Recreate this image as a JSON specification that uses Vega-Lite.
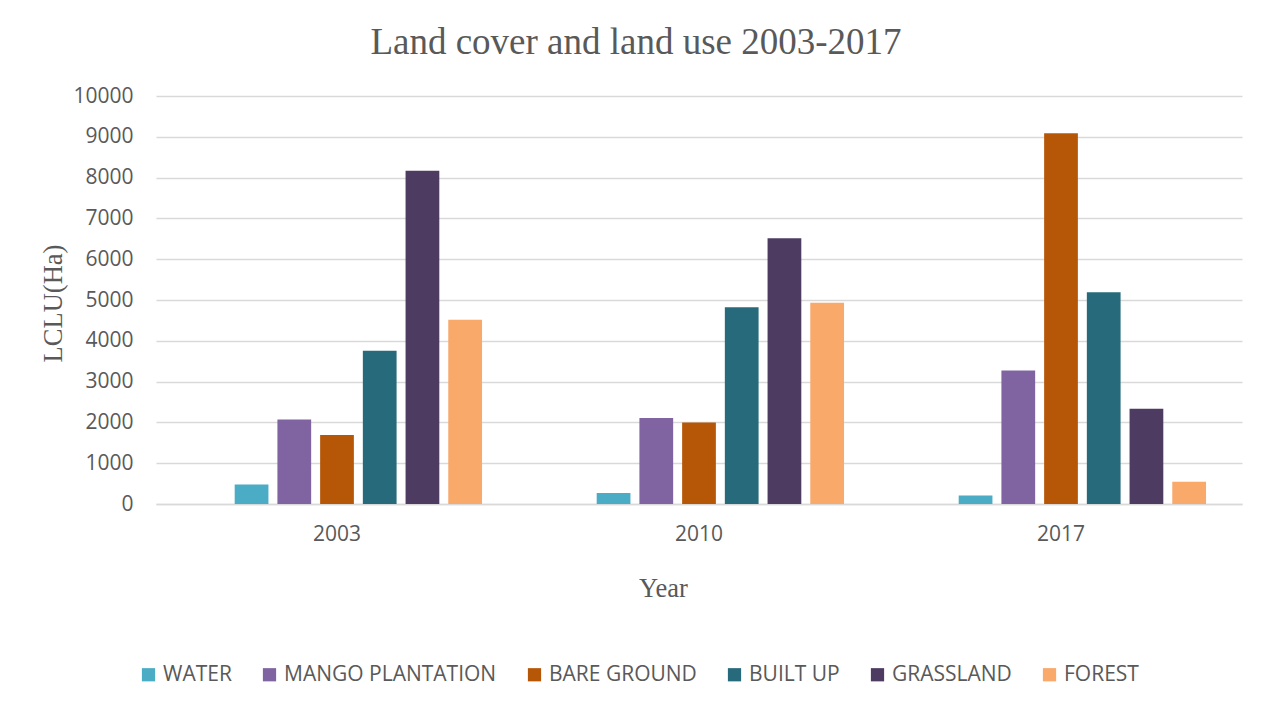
{
  "$schema": "https://vega.github.io/schema/vega-lite/v6.json",
  "autosize": "none",
  "width": 1086,
  "height": 408,
  "padding": {"left": 156, "top": 96, "right": 30, "bottom": 210},
  "background": "white",
  "title": {
    "text": "Land cover and land use 2003-2017",
    "font": "Liberation Serif",
    "fontSize": 37,
    "fontWeight": "normal",
    "color": "#595959",
    "frame": "group",
    "anchor": "middle",
    "baseline": "alphabetic",
    "offset": -6,
    "dx": -63
  },
  "data": {
    "values": [
      {"year": "2003", "class": "WATER", "ha": 480},
      {"year": "2003", "class": "MANGO PLANTATION", "ha": 2070},
      {"year": "2003", "class": "BARE GROUND", "ha": 1690},
      {"year": "2003", "class": "BUILT UP", "ha": 3755},
      {"year": "2003", "class": "GRASSLAND", "ha": 8165},
      {"year": "2003", "class": "FOREST", "ha": 4515},
      {"year": "2010", "class": "WATER", "ha": 270},
      {"year": "2010", "class": "MANGO PLANTATION", "ha": 2105},
      {"year": "2010", "class": "BARE GROUND", "ha": 2000},
      {"year": "2010", "class": "BUILT UP", "ha": 4825},
      {"year": "2010", "class": "GRASSLAND", "ha": 6515},
      {"year": "2010", "class": "FOREST", "ha": 4930},
      {"year": "2017", "class": "WATER", "ha": 210},
      {"year": "2017", "class": "MANGO PLANTATION", "ha": 3270},
      {"year": "2017", "class": "BARE GROUND", "ha": 9085},
      {"year": "2017", "class": "BUILT UP", "ha": 5190},
      {"year": "2017", "class": "GRASSLAND", "ha": 2335},
      {"year": "2017", "class": "FOREST", "ha": 545}
    ]
  },
  "mark": {"type": "bar"},
  "encoding": {
    "x": {
      "field": "year",
      "type": "nominal",
      "scale": {"paddingInner": 0.174, "paddingOuter": 0.087},
      "axis": {
        "title": "Year",
        "titleFont": "Liberation Serif",
        "titleFontSize": 26.5,
        "titleFontWeight": "normal",
        "titleColor": "#595959",
        "titleX": 507,
        "titleY": 92,
        "titleBaseline": "alphabetic",
        "titleAnchor": null,
        "titleAlign": "center",
        "labelAngle": 0,
        "labelFont": "Open Sans",
        "labelFontSize": 21,
        "labelColor": "#595959",
        "labelPadding": 19,
        "ticks": false,
        "domainColor": "#D9D9D9",
        "domainWidth": 1.3
      }
    },
    "xOffset": {
      "field": "class",
      "type": "nominal",
      "scale": {
        "domain": ["_", "WATER", "MANGO PLANTATION", "BARE GROUND", "BUILT UP", "GRASSLAND", "FOREST"],
        "paddingInner": 0.21,
        "paddingOuter": 0.105
      }
    },
    "y": {
      "field": "ha",
      "type": "quantitative",
      "scale": {"domain": [0, 10000], "nice": false},
      "axis": {
        "title": "LCLU(Ha)",
        "titleFont": "Liberation Serif",
        "titleFontSize": 26.5,
        "titleFontWeight": "normal",
        "titleColor": "#595959",
        "titleX": -95,
        "titleY": 207,
        "titleAngle": -90,
        "titleBaseline": "alphabetic",
        "titleAlign": "center",
        "values": [0, 1000, 2000, 3000, 4000, 5000, 6000, 7000, 8000, 9000, 10000],
        "format": "d",
        "labelFont": "Open Sans",
        "labelFontSize": 21,
        "labelColor": "#595959",
        "labelPadding": 23,
        "ticks": false,
        "domain": false,
        "gridColor": "#D9D9D9",
        "gridWidth": 1.3
      }
    },
    "color": {
      "field": "class",
      "type": "nominal",
      "scale": {
        "domain": ["WATER", "MANGO PLANTATION", "BARE GROUND", "BUILT UP", "GRASSLAND", "FOREST"],
        "range": ["#4BACC6", "#8064A2", "#B65708", "#276A7C", "#4D3B62", "#F9A96A"]
      },
      "legend": {
        "title": null,
        "orient": "none",
        "direction": "horizontal",
        "legendX": -18,
        "legendY": 568,
        "padding": 0,
        "symbolType": "square",
        "symbolSize": 175,
        "symbolStrokeWidth": 0,
        "labelFont": "Open Sans",
        "labelFontSize": 21,
        "labelColor": "#595959",
        "labelOffset": 4,
        "columnPadding": 27,
        "labelLimit": 400
      }
    }
  },
  "config": {
    "view": {"stroke": null},
    "axis": {"gridColor": "#D9D9D9"}
  }
}
